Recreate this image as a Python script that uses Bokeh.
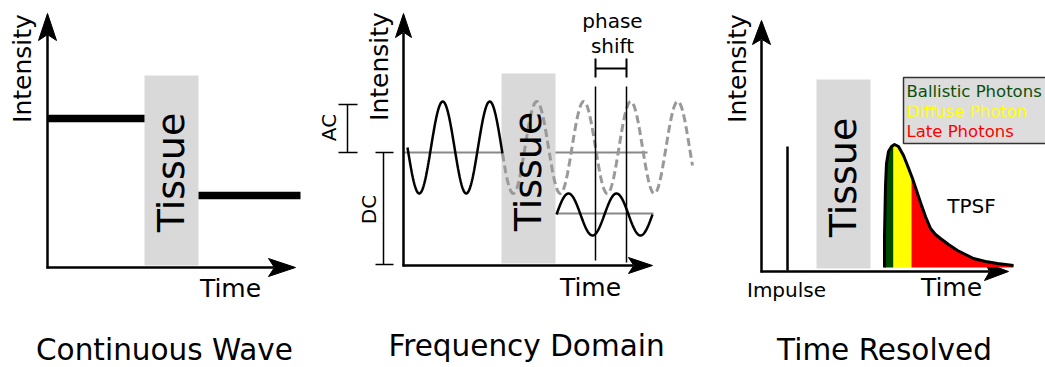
import numpy as np
from bokeh.plotting import figure
from bokeh.models import Range1d
from bokeh.core.properties import value
from bokeh.embed import file_html
from bokeh.resources import INLINE

W, H = 1045, 367
FONT = value("DejaVu Sans")

# ---------------- shared panel layout data ----------------
titles = ["Continuous Wave", "Frequency Domain", "Time Resolved"]
title_x = [164, 526, 884]
title_y = [349.5, 345.5, 349.5]

axis_origin_x = [47, 403, 761]
axis_origin_y = [267, 265, 271]
yaxis_tip = [13, 13, 20]
xaxis_tip = [295, 652, 1008]
head_len = [27, 24, 24]
head_half = [9, 8, 9]

intensity_x = [22, 379, 737]
intensity_y = [68, 66, 68]
time_x = [230, 590, 951]
time_y = [288, 287, 287]

tissue_left = [144, 501, 816]
tissue_right = [198, 555, 870]
tissue_top = [75, 73, 79]
tissue_bottom = [265, 263, 268]
tissue_text_x = [170, 527, 842]
tissue_text_y = [172, 171, 177]

# ---------------- continuous wave ----------------
cw_x0 = [47, 198]
cw_x1 = [144, 300]
cw_level = [118, 195]

# ---------------- frequency domain ----------------
fd_center, fd_amp, fd_period = 147, 46, 47
fd_x_start, fd_x_tissue, fd_x_end = 407, 502, 692
fd_dc_level, fd_dc_x0, fd_dc_x1 = 152, 403, 647
out_center, out_amp, out_period = 214, 21, 48
out_x0, out_x1 = 556, 652
out_line_y = 213
phase_x = [595, 626]
phase_top = 86
phase_bottom = [260, 262]
phase_bracket_y, phase_tick_top, phase_tick_bottom = 68, 58, 77
ac_x, ac_top, ac_bottom, ac_tick = 347, 104, 152, [338, 357]
dc_x, dc_top, dc_bottom, dc_tick = 383, 152, 264, [375, 393]

# ---------------- time resolved ----------------
impulse_x, impulse_top, impulse_bottom = 787, 146, 270
tpsf_x = [884, 884, 885, 886, 888, 891, 894, 898, 903, 907, 912, 916, 920,
          925, 930, 935, 940, 948, 957, 965, 973, 985, 997, 1005, 1013]
tpsf_y = [267, 235, 185, 163, 151, 146, 144, 146, 155, 165, 178, 190, 202,
          216, 228, 234, 238, 244, 250, 254, 258, 261, 263, 264, 265]
tpsf_base = 267
segment_bounds = [884, 893, 911, 1013]
segment_colors = ["#004a00", "#ffff00", "#ff0000"]
legend_labels = ["Ballistic Photons", "Diffuse Photon", "Late Photons"]
legend_colors = ["#0b4f0b", "#ffff00", "#ff0000"]
legend_y = [91, 111, 131]
legend_box = dict(left=903, right=1052, top=77, bottom=143)

# ---------------- figure ----------------
p = figure(width=W, height=H, x_range=Range1d(0, W), y_range=Range1d(H, 0),
           x_axis_type=None, y_axis_type=None, toolbar_location=None,
           output_backend="svg", min_border=0, min_border_left=0,
           min_border_right=0, min_border_top=0, min_border_bottom=0)
p.grid.visible = False
p.outline_line_color = None
p.background_fill_color = "white"
p.border_fill_color = "white"

# DC reference line (behind tissue)
p.line([fd_dc_x0, fd_dc_x1], [fd_dc_level, fd_dc_level], line_color="#888888", line_width=2)

# tissue boxes
p.quad(left=tissue_left, right=tissue_right, top=tissue_top, bottom=tissue_bottom,
       fill_color="#d9d9d9", line_color=None)

# axes with arrowheads
for i in range(3):
    x0, y0 = axis_origin_x[i], axis_origin_y[i]
    L, hw = head_len[i], head_half[i]
    p.line([x0, x0], [y0 + 1, yaxis_tip[i] + L * 0.8], line_color="black", line_width=2.5)
    p.line([x0 - 1, xaxis_tip[i] - L * 0.8], [y0, y0], line_color="black", line_width=2.5)
    ty = yaxis_tip[i]
    p.patch([x0, x0 - hw, x0, x0 + hw], [ty, ty + L, ty + L * 0.78, ty + L],
            fill_color="black", line_color="black", line_width=1)
    tx = xaxis_tip[i]
    p.patch([tx, tx - L, tx - L * 0.78, tx - L], [y0, y0 - hw, y0, y0 + hw],
            fill_color="black", line_color="black", line_width=1)

# continuous wave levels
for a, b, lv in zip(cw_x0, cw_x1, cw_level):
    p.line([a, b], [lv, lv], line_color="black", line_width=7.5)

# frequency-domain waves
xs_in = np.linspace(fd_x_start, fd_x_tissue, 200)
p.line(xs_in, fd_center + fd_amp * np.sin(2 * np.pi * (xs_in - fd_x_start) / fd_period),
       line_color="black", line_width=2.5)
xs_ref = np.linspace(fd_x_tissue, fd_x_end, 400)
p.line(xs_ref, fd_center + fd_amp * np.sin(2 * np.pi * (xs_ref - fd_x_start) / fd_period),
       line_color="#999999", line_width=3, line_dash="8 4")
p.line([out_x0 + 1, out_x1 + 1], [out_line_y, out_line_y], line_color="#888888", line_width=2)
xs_out = np.linspace(out_x0, out_x1, 200)
p.line(xs_out, out_center - out_amp * np.sin(2 * np.pi * (xs_out - out_x0) / out_period),
       line_color="black", line_width=2.5)

# phase shift markers
for px, pb in zip(phase_x, phase_bottom):
    p.line([px, px], [phase_top, pb], line_color="black", line_width=1.5)
    p.line([px, px], [phase_tick_top, phase_tick_bottom], line_color="black", line_width=2)
p.line(phase_x, [phase_bracket_y] * 2, line_color="black", line_width=2)

# AC / DC brackets
for bx, bt, bb, tk in [(ac_x, ac_top, ac_bottom, ac_tick), (dc_x, dc_top, dc_bottom, dc_tick)]:
    p.line([bx, bx], [bt, bb], line_color="black", line_width=1.5)
    p.line(tk, [bt, bt], line_color="black", line_width=1.5)
    p.line(tk, [bb, bb], line_color="black", line_width=1.5)

# impulse
p.line([impulse_x, impulse_x], [impulse_top, impulse_bottom], line_color="black", line_width=2.5)

# TPSF fill segments
tx_arr = np.array(tpsf_x[1:], dtype=float)
ty_arr = np.array(tpsf_y[1:], dtype=float)
for k in range(3):
    a, b = segment_bounds[k], segment_bounds[k + 1]
    xs_u = np.concatenate([[a], tx_arr[(tx_arr > a) & (tx_arr < b)], [b]])
    ys_u = np.interp(xs_u, tx_arr, ty_arr)
    p.varea(x=xs_u, y1=ys_u, y2=[tpsf_base] * len(xs_u), fill_color=segment_colors[k])
p.line(tpsf_x, tpsf_y, line_color="black", line_width=3, line_join="round")

# legend box
p.quad(left=[legend_box["left"]], right=[legend_box["right"]], top=[legend_box["top"]],
       bottom=[legend_box["bottom"]], fill_color="#dddddd", line_color="#333333", line_width=1.5)
for lab, col, ly in zip(legend_labels, legend_colors, legend_y):
    p.text([906], [ly], text=[lab], text_color=col, text_font=FONT,
           text_font_size=value("16.5px"), text_align="left", text_baseline="middle")

# texts
p.text(title_x, title_y, text=titles, text_font=FONT, text_font_size=value("29.5px"),
       text_align="center", text_baseline="middle", text_color="black")
p.text(intensity_x, intensity_y, text=["Intensity"] * 3, angle=np.pi / 2, text_font=FONT,
       text_font_size=value("25px"), text_align="center", text_baseline="middle", text_color="black")
p.text(time_x, time_y, text=["Time"] * 3, text_font=FONT, text_font_size=value("25px"),
       text_align="center", text_baseline="middle", text_color="black")
p.text(tissue_text_x, tissue_text_y, text=["Tissue"] * 3, angle=np.pi / 2, text_font=FONT,
       text_font_size=value("38px"), text_align="center", text_baseline="middle", text_color="black")
p.text([612, 612], [20, 45], text=["phase", "shift"], text_font=FONT, text_font_size=value("20px"),
       text_align="center", text_baseline="middle", text_color="black")
p.text([328, 368], [127, 209], text=["AC", "DC"], angle=np.pi / 2, text_font=FONT,
       text_font_size=value("20px"), text_align="center", text_baseline="middle", text_color="black")
p.text([786], [289], text=["Impulse"], text_font=FONT, text_font_size=value("20px"),
       text_align="center", text_baseline="middle", text_color="black")
p.text([971], [205], text=["TPSF"], text_font=FONT, text_font_size=value("20px"),
       text_align="center", text_baseline="middle", text_color="black")

open("out.html", "w").write(file_html(p, INLINE))
